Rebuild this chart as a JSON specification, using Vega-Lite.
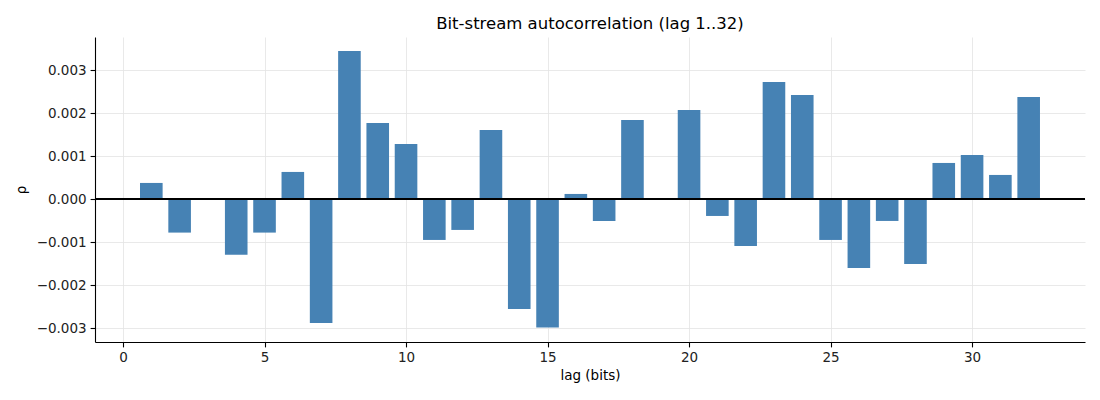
{
  "$schema": "https://vega.github.io/schema/vega-lite/v6.json",
  "description": "Bit-stream autocorrelation by lag",
  "autosize": {"type": "none"},
  "padding": {"left": 95, "top": 37, "right": 15, "bottom": 58},
  "width": 990,
  "height": 305,
  "background": "white",
  "title": {
    "text": "Bit-stream autocorrelation (lag 1..32)",
    "font": "DejaVu Sans",
    "fontSize": 16.5,
    "fontWeight": "normal",
    "color": "#000000",
    "anchor": "middle",
    "offset": 5
  },
  "config": {
    "view": {"stroke": null},
    "axis": {
      "labelFont": "DejaVu Sans",
      "labelFontSize": 13.5,
      "labelColor": "#222222",
      "titleFont": "DejaVu Sans",
      "titleFontSize": 13.5,
      "titleFontWeight": "normal",
      "titleColor": "#000000",
      "domainColor": "#000000",
      "domainWidth": 1.1,
      "tickColor": "#000000",
      "tickWidth": 1.1,
      "tickSize": 4.9,
      "labelPadding": 4,
      "gridColor": "#e3e3e3",
      "gridWidth": 0.8
    }
  },
  "data": {
    "values": [
      {"lag": 1, "rho": 0.00038},
      {"lag": 2, "rho": -0.000775},
      {"lag": 4, "rho": -0.00129},
      {"lag": 5, "rho": -0.000775},
      {"lag": 6, "rho": 0.000636},
      {"lag": 7, "rho": -0.00288},
      {"lag": 8, "rho": 0.00345},
      {"lag": 9, "rho": 0.001775},
      {"lag": 10, "rho": 0.001287},
      {"lag": 11, "rho": -0.000946},
      {"lag": 12, "rho": -0.000713},
      {"lag": 13, "rho": 0.00161},
      {"lag": 14, "rho": -0.00255},
      {"lag": 15, "rho": -0.002985},
      {"lag": 16, "rho": 0.000124},
      {"lag": 17, "rho": -0.000504},
      {"lag": 18, "rho": 0.001845},
      {"lag": 20, "rho": 0.002078},
      {"lag": 21, "rho": -0.000388},
      {"lag": 22, "rho": -0.001085},
      {"lag": 23, "rho": 0.002729},
      {"lag": 24, "rho": 0.002426},
      {"lag": 25, "rho": -0.000946},
      {"lag": 26, "rho": -0.001597},
      {"lag": 27, "rho": -0.000504},
      {"lag": 28, "rho": -0.001504},
      {"lag": 29, "rho": 0.000845},
      {"lag": 30, "rho": 0.001031},
      {"lag": 31, "rho": 0.000566},
      {"lag": 32, "rho": 0.00238}
    ]
  },
  "layer": [
    {
      "mark": {"type": "bar", "color": "#4682b4", "size": 22.6, "clip": true},
      "encoding": {
        "x": {
          "field": "lag",
          "type": "quantitative",
          "title": "lag (bits)",
          "scale": {"domain": [-0.99, 33.99], "nice": false, "zero": false, "padding": 0},
          "axis": {"values": [0, 5, 10, 15, 20, 25, 30], "format": "d", "titlePadding": 4}
        },
        "y": {
          "field": "rho",
          "type": "quantitative",
          "title": "ρ",
          "scale": {"domain": [-0.00332, 0.003775], "nice": false, "padding": 0},
          "axis": {
            "values": [-0.003, -0.002, -0.001, 0, 0.001, 0.002, 0.003],
            "labelExpr": "replace(format(datum.value, '.3f'), '-', '\u2212')",
            "titlePadding": 8
          }
        }
      }
    },
    {
      "mark": {"type": "rule", "color": "#000000", "strokeWidth": 1},
      "encoding": {"y": {"datum": 0, "type": "quantitative"}}
    }
  ]
}
